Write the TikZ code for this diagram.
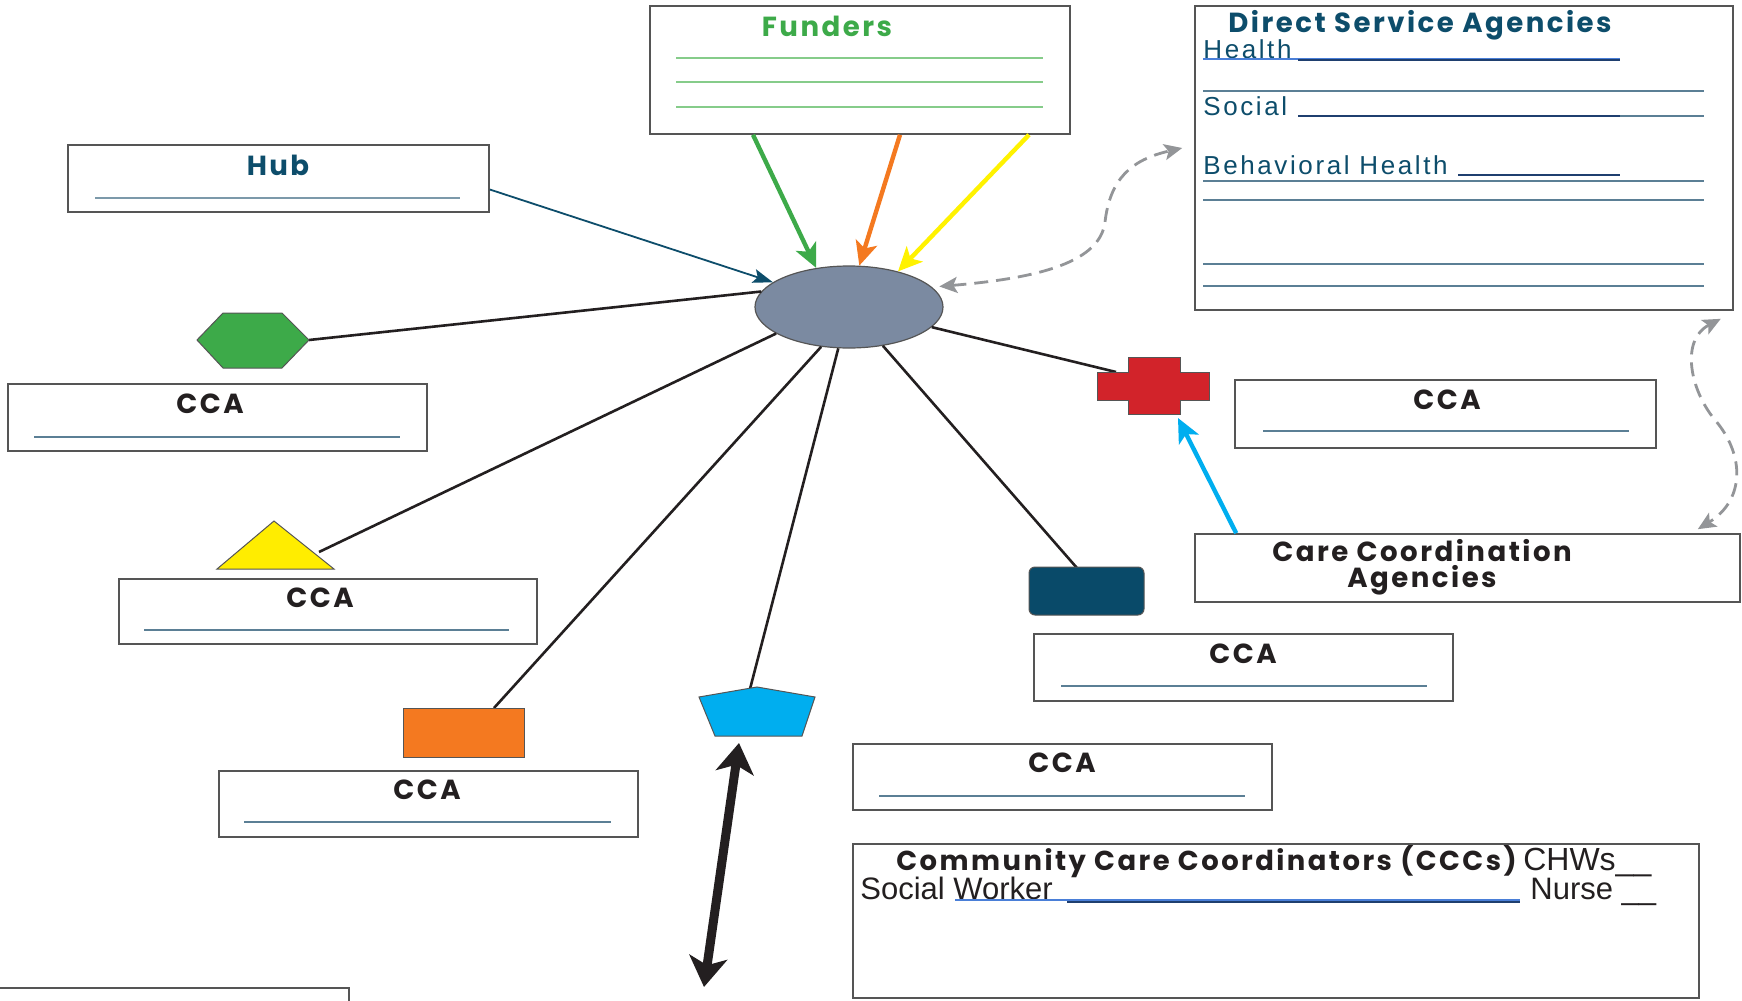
\documentclass[tikz,border=0pt]{standalone}
\usepackage{fontspec}
\usetikzlibrary{shapes.geometric,arrows.meta,calc}
\newfontfamily\gothic[LetterSpace=9]{Poppins}
\newfontfamily\plain{Liberation Sans}
\newfontfamily\plainwide[LetterSpace=10]{Liberation Sans}
\definecolor{hubblue}{HTML}{0D4D6B}
\definecolor{fundgreen}{HTML}{3DAA49}
\definecolor{paleg}{HTML}{86CC8A}
\definecolor{boxgray}{HTML}{555555}
\definecolor{slate}{HTML}{5B7F95}
\definecolor{deepnavy}{HTML}{1F3F6F}
\definecolor{linkblue}{HTML}{4A7FD8}
\definecolor{corefill}{HTML}{7B8AA1}
\definecolor{spokeblack}{HTML}{231F20}
\definecolor{hexgreen}{HTML}{3DAA49}
\definecolor{triyellow}{HTML}{FFED00}
\definecolor{arrowyellow}{HTML}{FFF200}
\definecolor{sqorange}{HTML}{F47920}
\definecolor{pentcyan}{HTML}{00AEEF}
\definecolor{navybox}{HTML}{094A69}
\definecolor{crossred}{HTML}{D2232A}
\definecolor{dashgray}{HTML}{939598}

\begin{document}
\begin{tikzpicture}[x=0.5pt,y=-0.5pt,
	box/.style={draw=boxgray,line width=0.8pt,fill=white,inner sep=0pt},
	ttl/.style={font=\gothic\bfseries\fontsize{13.8}{15}\selectfont,inner sep=0pt},
	dsatxt/.style={font=\plainwide\fontsize{13}{15}\selectfont,text=hubblue,inner sep=0pt},
	ccctxt/.style={font=\plain\fontsize{15.5}{18}\selectfont,text=spokeblack,inner sep=0pt},
	blank/.style={draw=slate,line width=0.6pt},
	spoke/.style={draw=spokeblack,line width=1.3pt},
	shp/.style={draw=boxgray,line width=0.5pt},
	feed/.style={line width=2.2pt,-{Stealth[length=12pt,width=11pt,inset=3pt]}},
	link/.style={draw=dashgray,line width=1.4pt,dash pattern=on 7pt off 4pt,
		{Stealth[length=9pt,width=8pt,inset=2pt]}-{Stealth[length=9pt,width=8pt,inset=2pt]}}]
	\fill[white] (0,0) rectangle (1742,1001);
	\useasboundingbox (0,0) rectangle (1742,1001);

	% boxes
	\node[box,minimum width=210pt,minimum height=64pt] (funders) at (860,70) {};
	\node[ttl,text=fundgreen] (fundtitle) at (827,26) {Funders};
	\draw[draw=paleg,line width=0.6pt] (676,58) -- (1043,58);
	\draw[draw=paleg,line width=0.6pt] (676,82) -- (1043,82);
	\draw[draw=paleg,line width=0.6pt] (676,107) -- (1043,107);

	\node[box,minimum width=269pt,minimum height=152pt] (dsa) at (1464,158) {};
	\node[ttl,text=hubblue] (dsatitle) at (1420,25) {Direct Service Agencies};
	\node[dsatxt,anchor=base west] (health) at (1203,58) {Health};
	\draw[draw=linkblue,line width=0.6pt] (1203,59) -- (1620,59);
	\draw[draw=deepnavy,line width=1.1pt] (1298,60) -- (1620,60);
	\draw[blank] (1203,91) -- (1704,91);
	\node[dsatxt,anchor=base west] (social) at (1203,115) {Social};
	\draw[draw=deepnavy,line width=1.1pt] (1298,116) -- (1620,116);
	\draw[blank] (1620,116) -- (1704,116);
	\node[dsatxt,anchor=base west] (behav) at (1203,174) {Behavioral Health};
	\draw[draw=deepnavy,line width=1.1pt] (1458,175) -- (1620,175);
	\draw[blank] (1203,181) -- (1704,181);
	\draw[blank] (1203,200) -- (1704,200);
	\draw[blank] (1203,264) -- (1704,264);
	\draw[blank] (1203,286) -- (1704,286);

	\node[box,minimum width=210.5pt,minimum height=33.5pt] (hub) at (278.5,178.5) {};
	\node[ttl,text=hubblue] (hubtitle) at (278,165) {Hub};
	\draw[draw=slate!80,line width=0.6pt] (95,198) -- (460,198);

	\node[box,minimum width=209.5pt,minimum height=33.5pt] (cca1) at (217.5,417.5) {};
	\node[ttl,text=spokeblack] (cca1t) at (210,404) {CCA};
	\draw[blank] (34,437) -- (400,437);
	\node[box,minimum width=209pt,minimum height=32.5pt] (cca2) at (328,611.5) {};
	\node[ttl,text=spokeblack] (cca2t) at (320,598) {CCA};
	\draw[blank] (144,630) -- (509,630);
	\node[box,minimum width=209.5pt,minimum height=33pt] (cca3) at (428.5,804) {};
	\node[ttl,text=spokeblack] (cca3t) at (427,790) {CCA};
	\draw[blank] (244,822) -- (611,822);
	\node[box,minimum width=209.5pt,minimum height=33.5pt] (cca4) at (1243.5,667.5) {};
	\node[ttl,text=spokeblack] (cca4t) at (1243,654) {CCA};
	\draw[blank] (1061,686) -- (1427,686);
	\node[box,minimum width=209.5pt,minimum height=33pt] (cca5) at (1062.5,777) {};
	\node[ttl,text=spokeblack] (cca5t) at (1062,763) {CCA};
	\draw[blank] (879,796) -- (1245,796);
	\node[box,minimum width=210.5pt,minimum height=34pt] (cca6) at (1445.5,414) {};
	\node[ttl,text=spokeblack] (cca6t) at (1447,400) {CCA};
	\draw[blank] (1263,431) -- (1629,431);

	\node[box,minimum width=272.5pt,minimum height=34pt] (ccag) at (1467.5,568) {};
	\node[ttl,text=spokeblack,align=center] (ccagt) at (1422,567) {Care Coordination\\[-2pt]Agencies};

	\node[box,minimum width=423pt,minimum height=77pt] (ccc) at (1276,921) {};
	\node[inner sep=0pt,anchor=base west,text=spokeblack] (ccct) at (896,870)
		{{\gothic\bfseries\fontsize{13.7}{15}\selectfont Community Care Coordinators (CCCs)} {\plain\fontsize{16}{18}\selectfont CHWs\_\_}};
	\node[ccctxt,anchor=base west] (worker) at (860,899) {Social Worker};
	\draw[draw=linkblue,line width=0.6pt] (955,900) -- (1520,900);
	\draw[draw=deepnavy,line width=1.1pt] (1067,902) -- (1520,902);
	\node[ccctxt,anchor=base west] (nurse) at (1530,899) {Nurse \_\_};

	\node[box,minimum width=177pt,minimum height=17pt] (note) at (172,1005) {};

	% centre and shape points
	\node[ellipse,draw=boxgray,line width=0.6pt,fill=corefill,minimum width=94pt,minimum height=41pt,inner sep=0pt] (core) at (849,307) {};
	\coordinate (hexR) at (309,340);
	\coordinate (triR) at (319,552);
	\coordinate (pentT) at (750,689);
	\coordinate (pentB) at (739,743);
	\coordinate (navyT) at (1077,568);
	\coordinate (crossT) at (1116,372);
	\coordinate (crossB) at (1178,418);
	\coordinate (downend) at (704,987);

	% spokes
	\draw[spoke] (core.170) -- (hexR);
	\draw[spoke] (core.200) -- (triR);
	\draw[spoke] (core.235) -- (494,708);
	\draw[spoke] (core) -- (pentT);
	\draw[spoke] (core) -- (navyT);
	\draw[spoke] (core) -- (crossT);

	% shapes
	\filldraw[shp,fill=hexgreen] (197,340) -- (223,313) -- (282,313) -- (309,340) -- (282,368) -- (223,368) -- cycle;
	\filldraw[shp,fill=triyellow] (274,521) -- (334,569) -- (217,569) -- cycle;
	\node[shp,fill=sqorange,minimum width=60.5pt,minimum height=24.5pt,inner sep=0pt] (osq) at (463.5,732.5) {};
	\filldraw[shp,fill=pentcyan] (757,687) -- (815,697) -- (802,736) -- (715,736) -- (699,697) -- cycle;
	\node[shp,fill=navybox,rounded corners=3pt,minimum width=57.5pt,minimum height=24pt,inner sep=0pt] (navy) at (1086.5,591) {};
	\filldraw[shp,fill=crossred] (1128,357) -- (1180,357) -- (1180,372) -- (1209,372) -- (1209,400) -- (1180,400) -- (1180,414) -- (1128,414) -- (1128,400) -- (1097,400) -- (1097,372) -- (1128,372) -- cycle;

	% arrows
	\draw[draw=hubblue,line width=0.9pt,-{Stealth[length=10pt,width=7pt,inset=2pt]}] ($(hub.east)+(0,11)$) -- (core.162);
	\draw[feed,draw=fundgreen] ($(funders.south)+(-107,0)$) -- (core.130);
	\draw[feed,draw=sqorange] ($(funders.south)+(40,0)$) -- (core.76);
	\draw[feed,draw=arrowyellow] ($(funders.south)+(169,0)$) -- (core.36);
	\draw[feed,draw=pentcyan] ($(ccag.north west)+(42,0)$) -- (crossB);
	\draw[draw=spokeblack,line width=4.5pt,{Stealth[length=15pt,width=19pt,inset=4pt]}-{Stealth[length=15pt,width=19pt,inset=4pt]}] (pentB) -- (downend);
	\draw[link] ($(core.14)+(8,0)$) .. controls (1040,278) and (1100,262) .. (1105,222) .. controls (1110,180) and (1130,160) .. ($(dsa.west)+(-12,-10)$);
	\draw[link] ($(dsa.south east)+(-13,8)$) .. controls (1680,340) and (1690,390) .. (1715,420) .. controls (1745,455) and (1745,500) .. ($(ccag.north east)+(-43,-4)$);
\end{tikzpicture}
\end{document}
